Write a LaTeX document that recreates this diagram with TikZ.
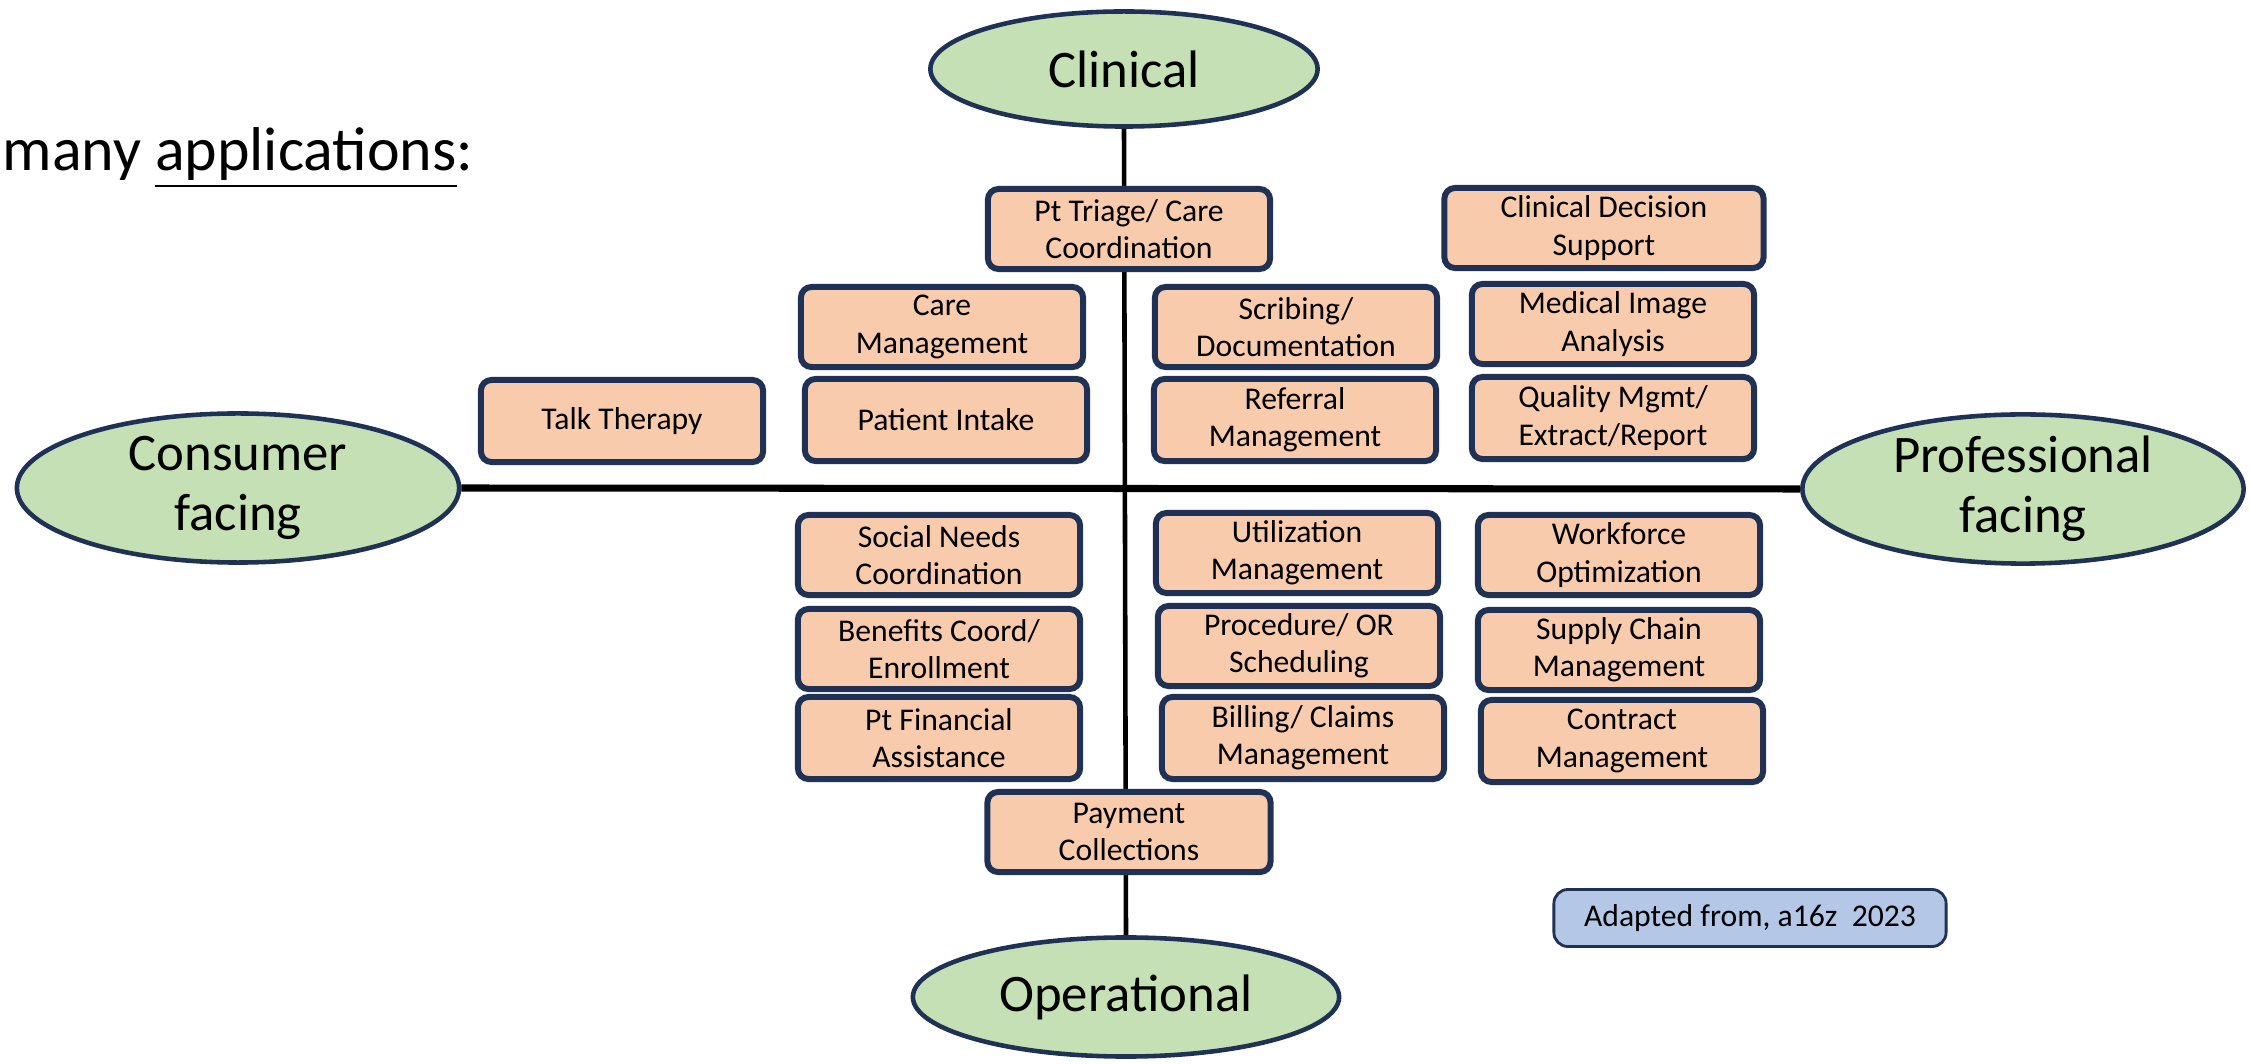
\documentclass[tikz,border=0pt]{standalone}
\usepackage{fontspec}
\setmainfont{Carlito}
\usetikzlibrary{shapes.geometric}
\usetikzlibrary{positioning}
\definecolor{peach}{HTML}{F8CBAD}
\definecolor{leaf}{HTML}{C5E0B4}
\definecolor{navy}{HTML}{1F3256}
\definecolor{sky}{HTML}{B4C7E7}

\begin{document}
\begin{tikzpicture}[x=0.01cm, y=-0.01cm,
	task/.style={rectangle, rounded corners=3pt, draw=navy, line width=1.7pt, fill=peach, minimum width=2.82cm, minimum height=0.8cm, inner sep=0pt, align=center, font=\fontsize{9}{10.6}\selectfont},
	pole/.style={ellipse, draw=navy, line width=1.3pt, fill=leaf, inner sep=0pt, align=center, font=\fontsize{15}{17}\selectfont},
	note/.style={rectangle, rounded corners=4pt, draw=navy, line width=0.8pt, fill=sky, minimum width=3.92cm, minimum height=0.57cm, inner sep=0pt, font=\fontsize{9}{10.6}\selectfont}]
		\useasboundingbox (0,0) rectangle (2250,1064);
		\node[anchor=east, inner sep=0pt, font=\fontsize{17.6}{20}\selectfont] (intro) at (474,158) {many \underline{applications}:};

		\node[pole, minimum width=3.87cm, minimum height=1.15cm] (clin) at (1124,69) {Clinical};
		\node[pole, minimum width=4.26cm, minimum height=1.19cm] (oper) at (1126,997) {Operational};
		\node[pole, minimum width=4.42cm, minimum height=1.49cm] (cons) at (238,488) {Consumer\\facing};
		\node[pole, minimum width=4.41cm, minimum height=1.46cm] (prof) at (2023,489) {Professional\\facing};

		\draw[line width=1.3pt] (clin.south) -- (oper.north);
		\draw[line width=2pt] (cons.east) -- (prof.west);

		\node[task] (triage) at (1129,229) {Pt Triage/ Care\\Coordination};
		\node[task, minimum width=3.19cm] (cds) at (1604,228) {Clinical Decision\\Support};
		\node[task] (caremgmt) at (942,327) {Care\\Management};
		\node[task] (scribe) at (1296,327) {Scribing/\\Documentation};
		\node[task] (image) at (1613,324) {Medical Image\\Analysis};
		\node[task, minimum height=0.82cm] (talk) at (622,421) {Talk Therapy};
		\node[task, minimum height=0.82cm] (intake) at (946,420) {Patient Intake};
		\node[task, minimum height=0.82cm] (referral) at (1295,420) {Referral\\Management};
		\node[task, minimum height=0.82cm] (quality) at (1613,418) {Quality Mgmt/\\Extract/Report};

		\node[task] (social) at (939,555) {Social Needs\\Coordination};
		\node[task] (util) at (1297,553) {Utilization\\Management};
		\node[task] (workforce) at (1619,555) {Workforce\\Optimization};
		\node[task] (benefits) at (939,649) {Benefits Coord/\\Enrollment};
		\node[task] (proc) at (1299,646) {Procedure/ OR\\Scheduling};
		\node[task] (supply) at (1619,650) {Supply Chain\\Management};
		\node[task, minimum height=0.82cm] (finance) at (939,738) {Pt Financial\\Assistance};
		\node[task, minimum height=0.82cm] (billing) at (1303,738) {Billing/ Claims\\Management};
		\node[task, minimum height=0.82cm] (contract) at (1622,741) {Contract\\Management};
		\node[task, minimum width=2.83cm] (payment) at (1129,832) {Payment\\Collections};

		\node[note] (source) at (1750,918) {Adapted from, a16z\ \ 2023};
\end{tikzpicture}
\end{document}
